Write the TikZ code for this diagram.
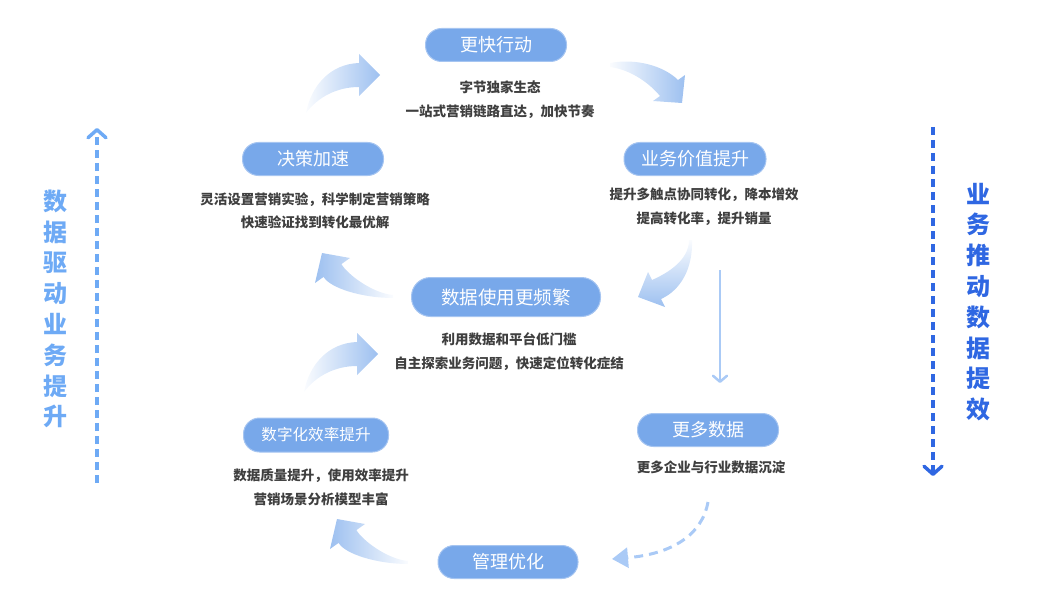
\documentclass[tikz,border=0pt]{standalone}
\usepackage{fontspec}
\setmainfont{Noto Sans CJK SC}
\usetikzlibrary{positioning,arrows.meta}
\definecolor{pillblue}{HTML}{78A8EA}
\definecolor{pillline}{HTML}{A6C5F1}
\definecolor{txtgray}{HTML}{3F3F3F}
\definecolor{arrowblue}{HTML}{9DC0F0}
\definecolor{thinblue}{HTML}{AACAF6}
\definecolor{leftblue}{HTML}{6EAAF5}
\definecolor{rightblue}{HTML}{2F67E2}

\begin{document}
\begin{tikzpicture}[x=1pt,y=-1pt,
        pill/.style={draw=pillline,line width=1pt,fill=pillblue,text=white,
            rounded corners=16pt,minimum width=141pt,minimum height=33pt,
            inner sep=0pt,font=\fontsize{18}{18}\selectfont},
        desc/.style={align=center,text=txtgray,inner sep=0pt,
            font=\fontsize{13.5}{23.5}\selectfont\bfseries},
        side/.style={align=center,inner sep=0pt,
            font=\fontsize{24}{30.8}\selectfont\bfseries},
        sideflow/.style={line width=3.5pt,dash pattern=on 8pt off 5pt},
        thinflow/.style={thinblue,line width=2.5pt,
            -{Straight Barb[length=6pt,width=14pt,round]}},
        dashflow/.style={thinblue,line width=3pt,dash pattern=on 9pt off 6pt,
            -{Triangle[length=16pt,width=20pt]}},
        fadeR/.style={left color=arrowblue!5,right color=arrowblue},
        fadeL/.style={left color=arrowblue,right color=arrowblue!5}
    ]
\useasboundingbox (0,0) rectangle (1040,596);

% stages of the cycle
\node[pill] (fast) at (496,45) {更快行动};
\node[desc] (fasttxt) at (500,99.5) {字节独家生态\\一站式营销链路直达，加快节奏};
\node[pill] (decide) at (313,159) {决策加速};
\node[desc] (decidetxt) at (315,211) {灵活设置营销实验，科学制定营销策略\\快速验证找到转化最优解};
\node[pill,minimum width=142pt] (value) at (695,159) {业务价值提升};
\node[desc] (valuetxt) at (704,206.5) {提升多触点协同转化，降本增效\\提高转化率，提升销量};
\node[pill,minimum width=189pt,minimum height=39pt,rounded corners=19pt,
    font=\fontsize{18.5}{18.5}\selectfont] (usage) at (506,297) {数据使用更频繁};
\node[desc] (usagetxt) at (509,351.5) {利用数据和平台低门槛\\自主探索业务问题，快速定位转化症结};
\node[pill,minimum width=145pt,minimum height=34pt,
    font=\fontsize{15.6}{15.6}\selectfont] (digit) at (316,435) {数字化效率提升};
\node[desc] (digittxt) at (321,487.5) {数据质量提升，使用效率提升\\营销场景分析模型丰富};
\node[pill] (moredata) at (708,430) {更多数据};
\node[desc] (moretxt) at (711,467) {更多企业与行业数据沉淀};
\node[pill,minimum width=140pt] (manage) at (508,562) {管理优化};

% curved fat arrows
\shade[fadeR] (306,113) .. controls (311,86) and (330,64) .. (359,63) -- (359,54)
    -- (380,75) -- (359,96) -- (359,87) .. controls (337,87) and (318,97) .. (306,113) -- cycle;
\shade[fadeR,shift={(-2,279)}] (306,113) .. controls (311,86) and (330,64) .. (359,63) -- (359,54)
    -- (380,75) -- (359,96) -- (359,87) .. controls (337,87) and (318,97) .. (306,113) -- cycle;
\shade[fadeR] (610,63) .. controls (636,58) and (664,66) .. (678,80) -- (685,75)
    -- (682,103) -- (653,101) -- (660,96) .. controls (650,84) and (632,70) .. (610,67) -- cycle;
\shade[top color=arrowblue!5,bottom color=arrowblue] (692,240) .. controls (693,268) and (681,290) .. (661,299)
    -- (665,307) -- (638,297) -- (648,272) -- (652,280) .. controls (668,273) and (689,260) .. (689,240) -- cycle;
\shade[fadeL] (393,298) .. controls (362,298) and (330,288) .. (323.6,276.9) -- (315,283)
    -- (322,253) -- (350,258) -- (341.4,264.1) .. controls (347.5,274.4) and (372,293) .. (393,295) -- cycle;
\shade[fadeL,shift={(15,266)}] (393,298) .. controls (362,298) and (330,288) .. (323.6,276.9) -- (315,283)
    -- (322,253) -- (350,258) -- (341.4,264.1) .. controls (347.5,274.4) and (372,293) .. (393,295) -- cycle;

% thin and dashed connectors
\coordinate (downtop) at (720,270);
\coordinate (downbot) at (720,383);
\draw[thinflow] (downtop) -- (downbot);
\coordinate (dashstart) at (708,502);
\coordinate (dashend) at (612,559);
\draw[dashflow] (dashstart) .. controls (702,535) and (672,554) .. (dashend);

% side labels
\coordinate (lbot) at (97,483);
\coordinate (ltop) at (97,128);
\draw[sideflow,leftblue,-{Straight Barb[length=8pt,width=18pt,round]}] (lbot) -- (ltop);
\node[side,text=leftblue] (uplabel) at (55,309) {数\\据\\驱\\动\\业\\务\\提\\升};
\coordinate (rtop) at (933,127);
\coordinate (rbot) at (933,476);
\draw[sideflow,rightblue,-{Straight Barb[length=8pt,width=18pt,round]}] (rtop) -- (rbot);
\node[side,text=rightblue] (downlabel) at (978,302) {业\\务\\推\\动\\数\\据\\提\\效};
\end{tikzpicture}
\end{document}
